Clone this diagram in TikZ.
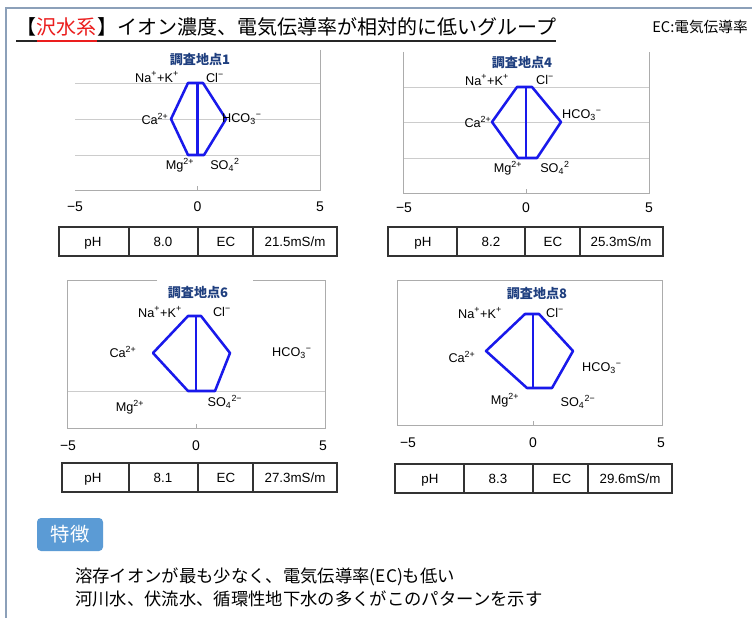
\documentclass[tikz,border=0pt]{standalone}
\usepackage{fontspec}
\setmainfont{Liberation Sans}
\newfontfamily\jp{Noto Sans CJK JP}
\definecolor{hexblue}{RGB}{25,25,235}
\definecolor{ttlblue}{RGB}{31,63,127}
\definecolor{framec}{RGB}{140,160,185}
\definecolor{featblue}{RGB}{91,155,213}
\definecolor{titlered}{RGB}{235,30,30}
\begin{document}
\begin{tikzpicture}[x=0.75pt,y=-0.75pt,
  gridln/.style={draw=gray!40, line width=0.6pt},
  axisln/.style={draw=gray!65, line width=0.75pt},
  hexa/.style={draw=hexblue, line width=1.9pt, line join=round},
  ion/.style={font=\fontsize{9.5}{11}\selectfont, inner sep=0pt},
  num/.style={font=\fontsize{10.5}{12}\selectfont, inner sep=0pt},
  ptitle/.style={font=\jp\bfseries\fontsize{9.8}{11}\selectfont, text=ttlblue, inner sep=0pt},
  tbl/.style={draw=black!80, line width=0.9pt},
  tcell/.style={font=\fontsize{10}{12}\selectfont, inner sep=0pt, text height=1.6ex, text depth=0.3ex},
  ttl/.style={font=\jp\fontsize{15}{18}\selectfont, inner sep=0pt, anchor=base west},
  body/.style={font=\jp\fontsize{13}{16}\selectfont, inner sep=0pt, anchor=west}]
\useasboundingbox (0,0) rectangle (752,617);
\fill[white] (0,0) rectangle (752,617);
% frame
\draw[framec, line width=1pt] (6,630) -- (6,8) -- (760,8);

% title
\node[ttl] (tA) at (16,35) {【};
\node[ttl, text=titlered] (tB) at (tA.base east) {沢水系};
\node[ttl] (tC) at (tB.base east) {】イオン濃度、電気伝導率が相対的に低いグループ};
\draw[black!85, line width=1.3pt] (tA.west |- 0,41) -- (tB.west |- 0,41);
\draw[titlered, line width=1.3pt] (tB.west |- 0,41) -- (tB.east |- 0,41);
\draw[black!85, line width=1.3pt] (tC.west |- 0,41) -- (tC.east |- 0,41);
\node[font=\jp\fontsize{11}{13}\selectfont, inner sep=0pt, anchor=west] (ecn) at (652,27) {EC:電気伝導率};

% ---------- panel 1 ----------
\draw[gridln] (75,83) -- (320,83) (75,119) -- (320,119) (75,155) -- (320,155);
\draw[axisln] (320,50) -- (320,190) -- (75,190);
\draw[axisln] (197.5,190) -- (197.5,186);
\draw[hexa] (188,83) -- (203,83) -- (226,119) -- (204,155) -- (188,155) -- (171,119) -- cycle;
\draw[hexa] (197.5,83) -- (197.5,155);
\node[ptitle] (p1t) at (200,60) {調査地点1};
\node[ion] (p1a) at (157,77) {Na\textsuperscript{+}+K\textsuperscript{+}};
\node[ion] (p1b) at (215,78) {Cl\textsuperscript{−}};
\node[ion] (p1c) at (155,119) {Ca\textsuperscript{2+}};
\node[ion] (p1d) at (242,119) {HCO\textsubscript{3}\textsuperscript{−}};
\node[ion] (p1e) at (180,165) {Mg\textsuperscript{2+}};
\node[ion] (p1f) at (225,165) {SO\textsubscript{4}\textsuperscript{2}};
\node[num] (p1x1) at (75,207) {−5};
\node[num] (p1x2) at (197.5,207) {0};
\node[num] (p1x3) at (320,207) {5};
\draw[tbl] (59,227) rectangle (337,256);
\draw[tbl] (129,227) -- (129,256) (198,227) -- (198,256) (253,227) -- (253,256);
\node[tcell] (p1c1) at (93,241.5) {pH};
\node[tcell] (p1c2) at (163,241.5) {8.0};
\node[tcell] (p1c3) at (226,241.5) {EC};
\node[tcell] (p1c4) at (295,241.5) {21.5mS/m};

% ---------- panel 2 ----------
\draw[gridln] (403,87) -- (649,87) (403,122) -- (649,122) (403,158) -- (649,158);
\draw[axisln] (403,52) -- (403,193) -- (649,193) -- (649,52);
\draw[axisln] (526,193) -- (526,189);
\draw[hexa] (517,87) -- (532,87) -- (561,122) -- (537,158) -- (518,158) -- (492,122) -- cycle;
\draw[hexa] (526,87) -- (526,158);
\node[ptitle] (p2t) at (522,63) {調査地点4};
\node[ion] (p2a) at (487,80) {Na\textsuperscript{+}+K\textsuperscript{+}};
\node[ion] (p2b) at (545,80) {Cl\textsuperscript{−}};
\node[ion] (p2c) at (478,122) {Ca\textsuperscript{2+}};
\node[ion] (p2d) at (582,115) {HCO\textsubscript{3}\textsuperscript{−}};
\node[ion] (p2e) at (508,168) {Mg\textsuperscript{2+}};
\node[ion] (p2f) at (555,168) {SO\textsubscript{4}\textsuperscript{2}};
\node[num] (p2x1) at (404,208) {−5};
\node[num] (p2x2) at (526,208) {0};
\node[num] (p2x3) at (649,208) {5};
\draw[tbl] (388,227) rectangle (663,256);
\draw[tbl] (457,227) -- (457,256) (525,227) -- (525,256) (580,227) -- (580,256);
\node[tcell] (p2c1) at (423,241.5) {pH};
\node[tcell] (p2c2) at (491,241.5) {8.2};
\node[tcell] (p2c3) at (553,241.5) {EC};
\node[tcell] (p2c4) at (621,241.5) {25.3mS/m};

% ---------- panel 3 ----------
\draw[gridln] (67,391) -- (325,391);
\draw[axisln] (157,280) -- (67,280) -- (67,428) -- (325,428) -- (325,280) -- (253,280);
\draw[axisln] (196,428) -- (196,424);
\draw[hexa] (188,316) -- (201,316) -- (230,353) -- (215,391) -- (188,391) -- (153,353) -- cycle;
\draw[hexa] (196,316) -- (196,391);
\node[ptitle] (p3t) at (198,293) {調査地点6};
\node[ion] (p3a) at (160,312) {Na\textsuperscript{+}+K\textsuperscript{+}};
\node[ion] (p3b) at (222,312) {Cl\textsuperscript{−}};
\node[ion] (p3c) at (123,352) {Ca\textsuperscript{2+}};
\node[ion] (p3d) at (292,353) {HCO\textsubscript{3}\textsuperscript{−}};
\node[ion] (p3e) at (130,407) {Mg\textsuperscript{2+}};
\node[ion] (p3f) at (225,402) {SO\textsubscript{4}\textsuperscript{2−}};
\node[num] (p3x1) at (68,446) {−5};
\node[num] (p3x2) at (196,446) {0};
\node[num] (p3x3) at (323,446) {5};
\draw[tbl] (62,463) rectangle (337,492);
\draw[tbl] (129,463) -- (129,492) (198,463) -- (198,492) (253,463) -- (253,492);
\node[tcell] (p3c1) at (93,477.5) {pH};
\node[tcell] (p3c2) at (163,477.5) {8.1};
\node[tcell] (p3c3) at (226,477.5) {EC};
\node[tcell] (p3c4) at (295,477.5) {27.3mS/m};

% ---------- panel 4 ----------
\draw[axisln] (397,425) -- (397,280) -- (662,280) -- (662,425) -- (397,425);
\draw[axisln] (533,425) -- (533,421);
\draw[hexa] (525,314) -- (539,314) -- (573,351) -- (552,388) -- (527,388) -- (486,351) -- cycle;
\draw[hexa] (533,314) -- (533,388);
\node[ptitle] (p4t) at (537,294) {調査地点8};
\node[ion] (p4a) at (480,313) {Na\textsuperscript{+}+K\textsuperscript{+}};
\node[ion] (p4b) at (555,313) {Cl\textsuperscript{−}};
\node[ion] (p4c) at (462,357) {Ca\textsuperscript{2+}};
\node[ion] (p4d) at (602,368) {HCO\textsubscript{3}\textsuperscript{−}};
\node[ion] (p4e) at (505,400) {Mg\textsuperscript{2+}};
\node[ion] (p4f) at (578,402) {SO\textsubscript{4}\textsuperscript{2−}};
\node[num] (p4x1) at (408,443) {−5};
\node[num] (p4x2) at (533,443) {0};
\node[num] (p4x3) at (661,443) {5};
\draw[tbl] (395,464) rectangle (672,493);
\draw[tbl] (464,464) -- (464,493) (533,464) -- (533,493) (588,464) -- (588,493);
\node[tcell] (p4c1) at (430,478.5) {pH};
\node[tcell] (p4c2) at (498,478.5) {8.3};
\node[tcell] (p4c3) at (562,478.5) {EC};
\node[tcell] (p4c4) at (630,478.5) {29.6mS/m};

% ---------- feature ----------
\node[fill=featblue, rounded corners=3pt, minimum width=66*0.75pt, minimum height=33*0.75pt,
      text=white, font=\jp\fontsize{14.5}{16}\selectfont, inner sep=0pt] (feat) at (70,534.5) {特徴};
\node[body] (l1) at (75,577) {溶存イオンが最も少なく、電気伝導率(EC)も低い};
\node[body] (l2) at (75,599) {河川水、伏流水、循環性地下水の多くがこのパターンを示す};
\end{tikzpicture}
\end{document}
